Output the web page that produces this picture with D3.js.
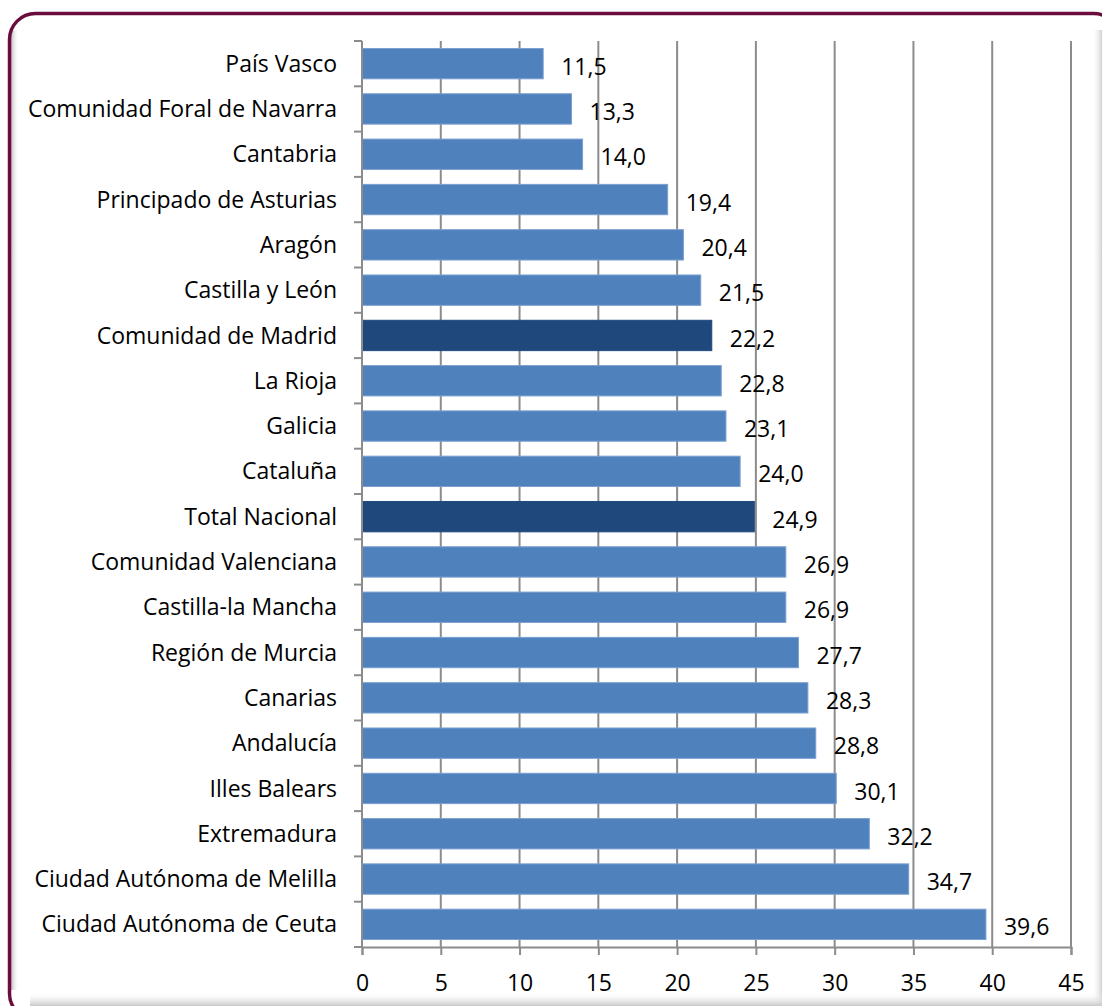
<!DOCTYPE html>
<html>
<head>
<meta charset="utf-8">
<script src="https://cdn.jsdelivr.net/npm/d3@7"></script>
<style>
  body { margin: 0; background: #fff; }
  text { font-family: "Open Sans", sans-serif; fill: #000; }
</style>
</head>
<body>
<div id="chart"></div>
<script>
var regions = ["País Vasco", "Comunidad Foral de Navarra", "Cantabria", "Principado de Asturias",
  "Aragón", "Castilla y León", "Comunidad de Madrid", "La Rioja", "Galicia", "Cataluña",
  "Total Nacional", "Comunidad Valenciana", "Castilla-la Mancha", "Región de Murcia",
  "Canarias", "Andalucía", "Illes Balears", "Extremadura", "Ciudad Autónoma de Melilla",
  "Ciudad Autónoma de Ceuta"]
var values = [11.5, 13.3, 14.0, 19.4, 20.4, 21.5, 22.2, 22.8, 23.1, 24.0,
  24.9, 26.9, 26.9, 27.7, 28.3, 28.8, 30.1, 32.2, 34.7, 39.6]
var highlighted = ["Comunidad de Madrid", "Total Nacional"]
var xTicks = [0, 5, 10, 15, 20, 25, 30, 35, 40, 45]

var width = 1102
var height = 1006
var margin = {top: 41, right: 31, bottom: 59, left: 362}
var fontSize = 23

var svg = d3.select("#chart").append("svg")
  .attr("width", width)
  .attr("height", height)

var defs = svg.append("defs")
var gb = defs.append("linearGradient").attr("id", "shBottom").attr("x1", 0).attr("y1", 0).attr("x2", 0).attr("y2", 1)
gb.append("stop").attr("offset", "0%").attr("stop-color", "#fff").attr("stop-opacity", 0)
gb.append("stop").attr("offset", "100%").attr("stop-color", "#c8c8c8").attr("stop-opacity", 1)
var gr = defs.append("linearGradient").attr("id", "shRight").attr("x1", 0).attr("y1", 0).attr("x2", 1).attr("y2", 0)
gr.append("stop").attr("offset", "0%").attr("stop-color", "#fff").attr("stop-opacity", 0)
gr.append("stop").attr("offset", "100%").attr("stop-color", "#d0d0d0").attr("stop-opacity", 1)
var gl = defs.append("linearGradient").attr("id", "shLeft").attr("x1", 0).attr("y1", 0).attr("x2", 1).attr("y2", 0)
gl.append("stop").attr("offset", "0%").attr("stop-color", "#bdbdbd").attr("stop-opacity", 1)
gl.append("stop").attr("offset", "100%").attr("stop-color", "#fff").attr("stop-opacity", 0)

// frame with inner shading
svg.append("rect")
  .attr("x", 9.5).attr("y", 13.5)
  .attr("width", 1110).attr("height", 1006)
  .attr("rx", 26).attr("ry", 26)
  .attr("fill", "#fff")
svg.append("rect").attr("x", 11).attr("y", 30).attr("width", 8).attr("height", 960).attr("fill", "url(#shLeft)")
svg.append("rect").attr("x", 1092).attr("y", 30).attr("width", 10).attr("height", 976).attr("fill", "url(#shRight)")
svg.append("rect").attr("x", 30).attr("y", 992).attr("width", 1072).attr("height", 14).attr("fill", "url(#shBottom)")
svg.append("rect")
  .attr("x", 9.5).attr("y", 13.5)
  .attr("width", 1110).attr("height", 1006)
  .attr("rx", 26).attr("ry", 26)
  .attr("fill", "none")
  .attr("stroke", "#6b0d3c")
  .attr("stroke-width", 3.5)

var iw = width - margin.left - margin.right
var ih = height - margin.top - margin.bottom

var x = d3.scaleLinear().domain([0, 45]).range([0, iw])
var y = d3.scaleBand().domain(regions).range([0, ih]).paddingInner(0.33).paddingOuter(0.165)

var g = svg.append("g").attr("transform", "translate(" + margin.left + "," + margin.top + ")")

// vertical gridlines
g.append("g")
  .selectAll("line")
  .data(xTicks.slice(1))
  .enter().append("line")
    .attr("x1", function(d) { return x(d) })
    .attr("x2", function(d) { return x(d) })
    .attr("y1", 0)
    .attr("y2", ih)
    .attr("stroke", "#8c8c8c")
    .attr("stroke-width", 2)

// bars
g.append("g")
  .selectAll("rect")
  .data(regions)
  .enter().append("rect")
    .attr("x", 0)
    .attr("y", function(d) { return y(d) })
    .attr("width", function(d, i) { return x(values[i]) })
    .attr("height", y.bandwidth())
    .attr("fill", function(d) { return highlighted.indexOf(d) >= 0 ? "#1f497d" : "#4f81bd" })
    .attr("stroke", function(d) { return highlighted.indexOf(d) >= 0 ? "#1f497d" : "#7ba0d0" })
    .attr("stroke-width", 1)

// value labels
g.append("g")
  .selectAll("text")
  .data(regions)
  .enter().append("text")
    .attr("x", function(d, i) { return x(values[i]) + 18 })
    .attr("y", function(d) { return y(d) + y.bandwidth() / 2 + 3 })
    .attr("dy", "0.35em")
    .attr("font-size", fontSize)
    .text(function(d, i) { return values[i].toFixed(1).replace(".", ",") })

// y axis: ticks between categories
var yBounds = regions.map(function(d) { return y(d) - y.step() * y.paddingInner() / 2 })
yBounds.push(ih)
g.append("g")
  .selectAll("line")
  .data(yBounds)
  .enter().append("line")
    .attr("x1", -8).attr("x2", 0)
    .attr("y1", function(d) { return d })
    .attr("y2", function(d) { return d })
    .attr("stroke", "#8c8c8c")
    .attr("stroke-width", 2)
g.append("line")
  .attr("x1", 0).attr("x2", 0)
  .attr("y1", 0).attr("y2", ih)
  .attr("stroke", "#8c8c8c")
  .attr("stroke-width", 2)

g.append("g")
  .selectAll("text")
  .data(regions)
  .enter().append("text")
    .attr("x", -25)
    .attr("y", function(d) { return y(d) + y.bandwidth() / 2 })
    .attr("dy", "0.35em")
    .attr("text-anchor", "end")
    .attr("font-size", fontSize)
    .text(function(d) { return d })

// x axis
var xAxis = g.append("g")
  .attr("transform", "translate(0," + ih + ")")
  .call(d3.axisBottom(x).tickValues(xTicks).tickSize(8).tickPadding(20))
xAxis.select(".domain").attr("stroke", "#8c8c8c").attr("stroke-width", 2)
xAxis.selectAll(".tick line").attr("stroke", "#8c8c8c").attr("stroke-width", 2)
xAxis.selectAll(".tick text")
  .attr("font-size", fontSize)
  .attr("font-family", "'Open Sans', sans-serif")
  .attr("fill", "#000")
</script>
</body>
</html>
